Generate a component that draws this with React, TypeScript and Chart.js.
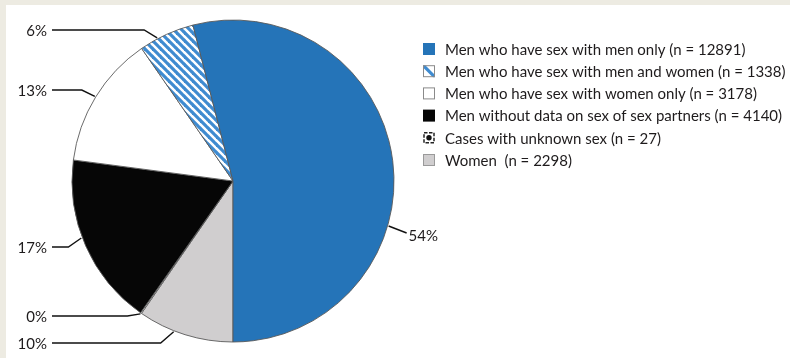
import React, { useEffect, useRef } from "react";
import { Chart, registerables } from "chart.js";

Chart.register(...registerables);

// Data, in drawing order (clockwise starting at the bottom of the pie)
const categories = [
  "Women",
  "Cases with unknown sex",
  "Men without data on sex of sex partners",
  "Men who have sex with women only",
  "Men who have sex with men and women",
  "Men who have sex with men only",
];
const counts = [2298, 27, 4140, 3178, 1338, 12891];
const percentLabels = ["10%", "0%", "17%", "13%", "6%", "54%"];

// Legend (top to bottom), as indices into categories
const legendOrder = [5, 4, 3, 2, 1, 0];
const legendLabels = [
  "Men who have sex with men only (n = 12891)",
  "Men who have sex with men and women (n = 1338)",
  "Men who have sex with women only (n = 3178)",
  "Men without data on sex of sex partners (n = 4140)",
  "Cases with unknown sex (n = 27)",
  "Women  (n = 2298)",
];

// Label layout: vertical position of each percentage label, and where along the slice the leader line points
const labelY = [343, 316, 247, 90, 30, 233];
const labelAnchorFrac = [0.62, 0.5, 0.55, 0.5, 0.33, 0.62];
const labelSide = ["left", "left", "left", "left", "left", "right"];

const BLUE = "#2574b8";
const STRIPE = "#3f8bd0";
const GRAY = "#d0cecf";
const BLACK = "#060606";
const EDGE = "#5a5a5a";
const TEXT = "#1e1b1c";
const FONT = "Lato";

function makeHatch(ctx: CanvasRenderingContext2D): CanvasPattern | string {
  const s = 8;
  const c = document.createElement("canvas");
  c.width = s;
  c.height = s;
  const g = c.getContext("2d");
  if (!g) return STRIPE;
  g.fillStyle = "#ffffff";
  g.fillRect(0, 0, s, s);
  g.strokeStyle = STRIPE;
  g.lineWidth = 3.2;
  for (let k = -1; k <= 1; k++) {
    g.beginPath();
    g.moveTo(k * s - 1, -1);
    g.lineTo(k * s + s + 1, s + 1);
    g.stroke();
  }
  return ctx.createPattern(c, "repeat") || STRIPE;
}

export default function App() {
  const ref = useRef<HTMLCanvasElement | null>(null);

  useEffect(() => {
    const canvas = ref.current;
    if (!canvas) return;
    const ctx = canvas.getContext("2d");
    if (!ctx) return;
    const hatch = makeHatch(ctx);
    const colors: any[] = [GRAY, "#ffffff", BLACK, "#ffffff", hatch, BLUE];

    const labelPlugin = {
      id: "pieLabels",
      afterDatasetsDraw(chart: any) {
        const c = chart.ctx as CanvasRenderingContext2D;
        const meta = chart.getDatasetMeta(0);
        c.save();
        c.strokeStyle = "#111";
        c.lineWidth = 1.4;
        c.fillStyle = TEXT;
        c.font = `15px ${FONT}`;
        c.textBaseline = "middle";
        meta.data.forEach((arc: any, i: number) => {
          const a = arc.startAngle + labelAnchorFrac[i] * (arc.endAngle - arc.startAngle);
          const r = arc.outerRadius + 1;
          const ax = arc.x + r * Math.cos(a);
          const ay = arc.y + r * Math.sin(a);
          const ly = labelY[i];
          c.beginPath();
          if (labelSide[i] === "left") {
            c.moveTo(52, ly);
            c.lineTo(ax - 13, ly);
            c.lineTo(ax, ay);
            c.stroke();
            c.textAlign = "right";
            c.fillText(percentLabels[i], 47, ly + 1);
          } else {
            const ex = ax + 18;
            c.moveTo(ax, ay);
            c.lineTo(ex, ly);
            c.stroke();
            c.textAlign = "left";
            c.fillText(percentLabels[i], ex + 2, ly + 3);
          }
        });

        // Legend
        c.textAlign = "left";
        legendOrder.forEach((idx, row) => {
          const y = 49 + row * 22.2;
          const bx = 423;
          const by = y - 6;
          const bs = 12;
          const name = categories[idx];
          if (name === "Men who have sex with men only") {
            c.fillStyle = BLUE;
            c.fillRect(bx, by, bs, bs);
          } else if (name === "Men without data on sex of sex partners") {
            c.fillStyle = BLACK;
            c.fillRect(bx, by, bs, bs);
          } else if (name === "Men who have sex with men and women") {
            c.fillStyle = "#fff";
            c.fillRect(bx, by, bs, bs);
            c.save();
            c.beginPath();
            c.rect(bx, by, bs, bs);
            c.clip();
            c.strokeStyle = STRIPE;
            c.lineWidth = 3.2;
            c.beginPath();
            c.moveTo(bx, by);
            c.lineTo(bx + bs, by + bs);
            c.stroke();
            c.restore();
            c.strokeStyle = "#8a8a8a";
            c.lineWidth = 1;
            c.strokeRect(bx + 0.5, by + 0.5, bs - 1, bs - 1);
          } else if (name === "Men who have sex with women only") {
            c.fillStyle = "#fff";
            c.fillRect(bx, by, bs, bs);
            c.strokeStyle = "#8a8a8a";
            c.lineWidth = 1;
            c.strokeRect(bx + 0.5, by + 0.5, bs - 1, bs - 1);
          } else if (name === "Women") {
            c.fillStyle = GRAY;
            c.fillRect(bx, by, bs, bs);
            c.strokeStyle = "#9a9a9a";
            c.lineWidth = 1;
            c.strokeRect(bx + 0.5, by + 0.5, bs - 1, bs - 1);
          } else {
            c.fillStyle = "#fff";
            c.fillRect(bx, by, bs, bs);
            c.strokeStyle = "#222";
            c.lineWidth = 1.5;
            c.setLineDash([3.5, 1.5]);
            c.strokeRect(bx + 1, by + 1, bs - 2, bs - 2);
            c.setLineDash([]);
            c.fillStyle = "#111";
            c.beginPath();
            c.arc(bx + bs / 2, by + bs / 2, 2.7, 0, Math.PI * 2);
            c.fill();
          }
          c.fillStyle = TEXT;
          c.font = `15px ${FONT}`;
          c.fillText(legendLabels[row], 445, y + 1);
        });
        c.restore();
      },
    };

    const chart = new Chart(ctx, {
      type: "pie",
      data: {
        labels: categories,
        datasets: [
          {
            data: counts,
            backgroundColor: colors,
            borderColor: EDGE,
            borderWidth: 0.9,
            hoverOffset: 0,
          },
        ],
      },
      options: {
        responsive: false,
        animation: false,
        rotation: 180,
        radius: 161,
        events: [],
        layout: { padding: { left: 0, right: 324, top: 4, bottom: 0 } },
        plugins: {
          legend: { display: false },
          tooltip: { enabled: false },
        },
      },
      plugins: [labelPlugin],
    });
    return () => chart.destroy();
  }, []);

  return (
    <div
      style={{
        position: "absolute",
        left: 0,
        top: 0,
        width: 790,
        height: 358,
        background: "#edebe2",
        overflow: "hidden",
      }}
    >
      <div
        style={{
          position: "absolute",
          left: 6,
          top: 5,
          right: 0,
          bottom: 0,
          background: "#ffffff",
        }}
      />
      <canvas
        ref={ref}
        width={790}
        height={358}
        style={{ position: "absolute", left: 0, top: 0, display: "block" }}
      />
    </div>
  );
}
